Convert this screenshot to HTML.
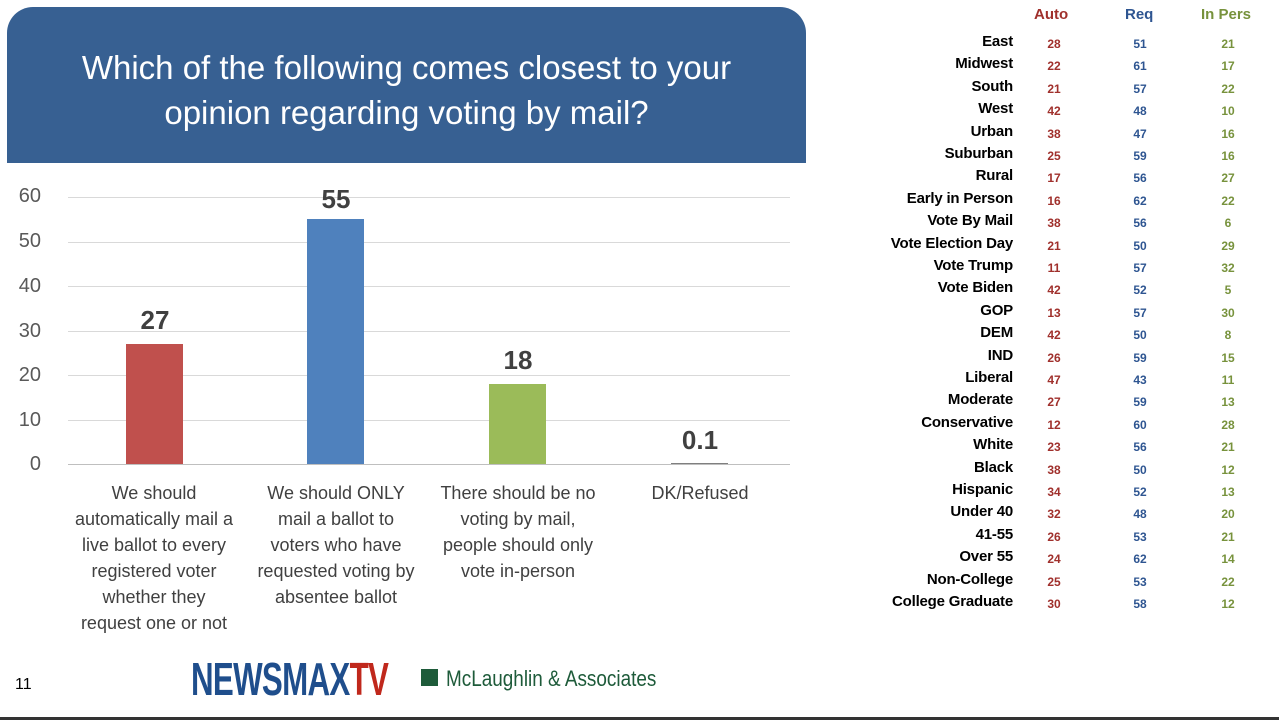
<!DOCTYPE html><html><head><style>
body{margin:0;width:1279px;height:720px;background:#fff;position:relative;overflow:hidden;font-family:"Liberation Sans",sans-serif}
.hdr{position:absolute;left:7px;top:7px;width:799px;height:156px;background:#376092;border-radius:26px 26px 0 0;color:#fff;font-size:33px;text-align:center;line-height:45px;box-sizing:border-box;padding-top:38px}
.t{position:absolute}
.yl{position:absolute;left:0;width:41px;text-align:right;font-size:20px;color:#595959}
.g{position:absolute;left:68px;width:722px;height:1px;background:#d9d9d9}
.bar{position:absolute;width:57px}
.val{position:absolute;width:120px;text-align:center;font-size:26px;font-weight:bold;color:#404040}
.cat{position:absolute;width:180px;text-align:center;font-size:18px;color:#404040;line-height:26px;top:480px;white-space:nowrap}
.row{position:absolute;left:840px;width:440px;height:22px}
.row .n{position:absolute;right:267px;font-size:15px;font-weight:bold;color:#000;white-space:nowrap;letter-spacing:-0.2px}
.row span.v{position:absolute;width:40px;text-align:center;font-size:12px;font-weight:bold;top:4px}
.a{color:#a0302c;left:194px}.r{color:#2e5591;left:280px}.p{color:#77923c;left:368px}
</style></head><body>
<div class="hdr">Which of the following comes closest to your<br>opinion regarding voting by mail?</div>
<div class="yl" style="top:185px">60</div><div class="yl" style="top:230px">50</div><div class="yl" style="top:275px">40</div><div class="yl" style="top:320px">30</div><div class="yl" style="top:364px">20</div><div class="yl" style="top:409px">10</div><div class="yl" style="top:453px">0</div>
<div class="g" style="top:197px"></div><div class="g" style="top:242px"></div><div class="g" style="top:286px"></div><div class="g" style="top:331px"></div><div class="g" style="top:375px"></div><div class="g" style="top:420px"></div><div class="g" style="top:464px;background:#bfbfbf"></div>
<div class="bar" style="left:126px;top:344px;height:120px;background:#c0504d"></div>
<div class="bar" style="left:307px;top:219px;height:245px;background:#4f81bd"></div>
<div class="bar" style="left:489px;top:384px;height:80px;background:#9bbb59"></div>
<div class="bar" style="left:671px;top:463px;height:1px;background:#7f7f7f"></div>
<div class="val" style="left:95px;top:305px">27</div>
<div class="val" style="left:276px;top:184px">55</div>
<div class="val" style="left:458px;top:345px">18</div>
<div class="val" style="left:640px;top:425px">0.1</div>
<div class="cat" style="left:64px">We should<br>automatically mail a<br>live ballot to every<br>registered voter<br>whether they<br>request one or not</div>
<div class="cat" style="left:246px">We should ONLY<br>mail a ballot to<br>voters who have<br>requested voting by<br>absentee ballot</div>
<div class="cat" style="left:428px">There should be no<br>voting by mail,<br>people should only<br>vote in-person</div>
<div class="cat" style="left:610px">DK/Refused</div>
<div class="t" style="left:15px;top:676px;font-size:16px">11</div>
<div class="t" style="left:191px;top:652px;font-size:46px;font-weight:bold;color:#1f4e8c;letter-spacing:-1px;transform:scaleX(0.68);transform-origin:left">NEWSMAX<span style="color:#c0281c">TV</span></div>
<div class="t" style="left:421px;top:669px;width:17px;height:17px;background:#1e5b3a"></div>
<div class="t" style="left:446px;top:666px;font-size:22px;color:#1e5b3a;transform:scaleX(0.86);transform-origin:left">McLaughlin &amp; Associates</div>
<div class="t" style="left:0;top:717px;width:1279px;height:3px;background:#333"></div>
<div class="t" style="left:1034px;top:6px;font-size:15px;font-weight:bold;color:#a0302c">Auto</div>
<div class="t" style="left:1125px;top:6px;font-size:15px;font-weight:bold;color:#2e5591">Req</div>
<div class="t" style="left:1201px;top:6px;font-size:15px;font-weight:bold;color:#77923c">In Pers</div>
<div id="tb"></div>
<script>
var d=[["East",28,51,21],["Midwest",22,61,17],["South",21,57,22],["West",42,48,10],["Urban",38,47,16],["Suburban",25,59,16],["Rural",17,56,27],["Early in Person",16,62,22],["Vote By Mail",38,56,6],["Vote Election Day",21,50,29],["Vote Trump",11,57,32],["Vote Biden",42,52,5],["GOP",13,57,30],["DEM",42,50,8],["IND",26,59,15],["Liberal",47,43,11],["Moderate",27,59,13],["Conservative",12,60,28],["White",23,56,21],["Black",38,50,12],["Hispanic",34,52,13],["Under 40",32,48,20],["41-55",26,53,21],["Over 55",24,62,14],["Non-College",25,53,22],["College Graduate",30,58,12]];
var h="";d.forEach(function(x,i){h+='<div class="row" style="top:'+(33+i*22.4)+'px"><span class="n">'+x[0]+'</span><span class="v a">'+x[1]+'</span><span class="v r">'+x[2]+'</span><span class="v p">'+x[3]+'</span></div>'});
document.getElementById("tb").innerHTML=h;
</script>
</body></html>
